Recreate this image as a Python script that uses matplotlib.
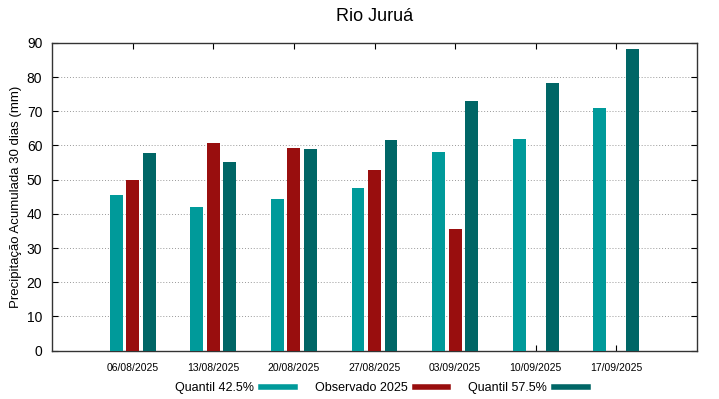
import numpy as np
import matplotlib.pyplot as plt

plt.rcParams['font.family'] = ['Liberation Sans', 'DejaVu Sans']

# datas e valores (mm)
datas = ['06/08/2025', '13/08/2025', '20/08/2025', '27/08/2025',
         '03/09/2025', '10/09/2025', '17/09/2025']
quantil_425 = [45.4, 41.9, 44.2, 47.7, 58.0, 62.0, 70.9]
observado_2025 = [49.9, 60.7, 59.4, 52.8, 35.5, None, None]
quantil_575 = [57.8, 55.2, 59.0, 61.5, 73.0, 78.4, 88.1]

cor_q425 = '#009a9a'
cor_obs = '#990e0e'
cor_q575 = '#006666'

fig = plt.figure(figsize=(7.19, 3.99), dpi=100)
ax = fig.add_axes([52 / 719, 1 - 350.5 / 399, 645 / 719, 307.5 / 399])

x = np.arange(1, len(datas) + 1)
largura = 0.16
desloc = 0.205

obs_x = [xi for xi, v in zip(x, observado_2025) if v is not None]
obs_v = [v for v in observado_2025 if v is not None]

ax.bar(x - desloc, quantil_425, largura, color=cor_q425, zorder=3)
ax.bar(obs_x, obs_v, largura, color=cor_obs, zorder=3)
ax.bar(x + desloc, quantil_575, largura, color=cor_q575, zorder=3)

ax.set_xlim(0, 8)
ax.set_ylim(0, 90)
ax.set_yticks(range(0, 91, 10))
ax.set_xticks(x)
ax.set_xticklabels(datas, fontsize=7.5)
ax.tick_params(axis='y', labelsize=10, direction='in', length=4, right=True, pad=7)
ax.tick_params(axis='x', direction='in', length=4, top=True, pad=9)
ax.yaxis.grid(True, linestyle=(0, (1, 2)), color='#999999', linewidth=0.7, zorder=0)
for s in ax.spines.values():
    s.set_color('#333333')
    s.set_linewidth(1.0)

ax.set_ylabel('Precipitação Acumulada 30 dias (mm)', fontsize=9.5, labelpad=3)
fig.suptitle('Rio Juruá', fontsize=13, x=374.5 / 719, y=1 - 8 / 399, va='top')

h1 = plt.Line2D([], [], color=cor_q425, linewidth=4)
h2 = plt.Line2D([], [], color=cor_obs, linewidth=4)
h3 = plt.Line2D([], [], color=cor_q575, linewidth=4)
fig.legend([h1, h2, h3], ['Quantil 42.5%', 'Observado 2025', 'Quantil 57.5%'],
           loc='center', bbox_to_anchor=(381.5 / 719, 1 - 388 / 399), ncol=3,
           frameon=False, markerfirst=False, fontsize=9, handlelength=2.7,
           handletextpad=0.55, columnspacing=1.6, borderpad=0.2)

fig.savefig('out.png', dpi=100)
